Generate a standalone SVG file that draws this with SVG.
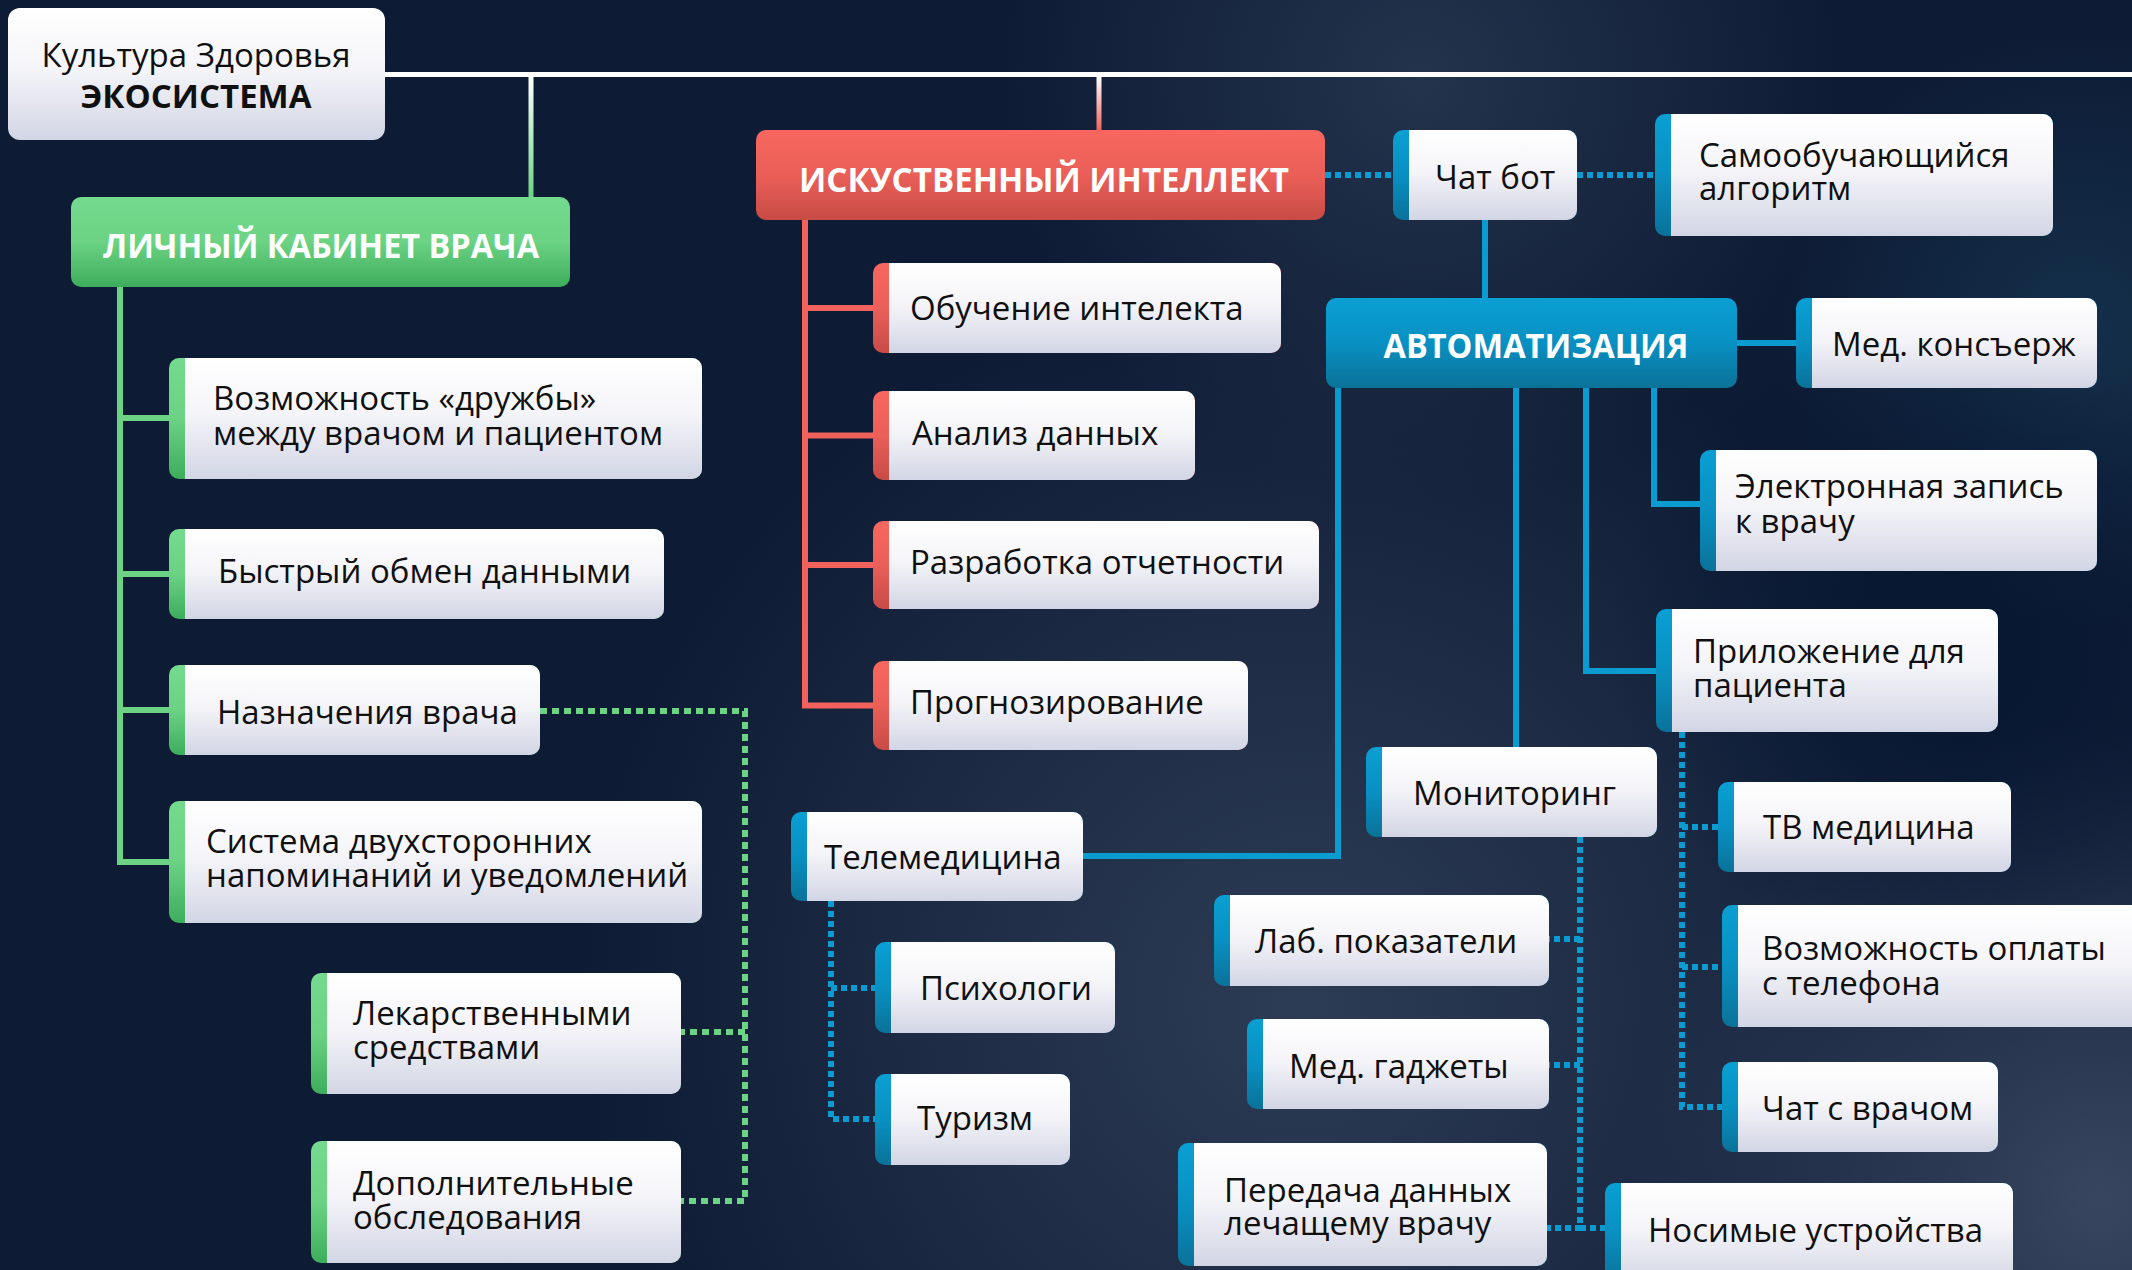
<svg xmlns="http://www.w3.org/2000/svg" width="2132" height="1270" viewBox="0 0 2132 1270">
<defs>
<style>
.t{font-family:"Open Sans","Noto Sans","DejaVu Sans",sans-serif;font-size:33px;fill:#101010}
.h{font-family:"Open Sans","Noto Sans","DejaVu Sans",sans-serif;font-weight:700;font-size:34px;fill:#ffffff;text-anchor:middle}
.w{fill:url(#wg)}
.sg{fill:url(#gg)}
.sr{fill:url(#rg)}
.sb{fill:url(#bgr)}
.lg{fill:none;stroke:#6bd383;stroke-width:6}
.lr{fill:none;stroke:#f0625b;stroke-width:6}
.lb{fill:none;stroke:#0a9bd0;stroke-width:6}
.dg{fill:none;stroke:#6bd383;stroke-width:6;stroke-dasharray:7 5}
.db{fill:none;stroke:#0a9bd0;stroke-width:6;stroke-dasharray:6 4}
</style>
<linearGradient id="wg" x1="0" y1="0" x2="0" y2="1"><stop offset="0" stop-color="#ffffff"/><stop offset="0.45" stop-color="#f5f5f9"/><stop offset="1" stop-color="#d2d5e4"/></linearGradient>
<linearGradient id="gg" x1="0" y1="0" x2="0" y2="1"><stop offset="0" stop-color="#74da8e"/><stop offset="0.5" stop-color="#6bd383"/><stop offset="1" stop-color="#3dad5c"/></linearGradient>
<linearGradient id="rg" x1="0" y1="0" x2="0" y2="1"><stop offset="0" stop-color="#f7675f"/><stop offset="0.5" stop-color="#ea5f58"/><stop offset="1" stop-color="#c84b46"/></linearGradient>
<linearGradient id="bgr" x1="0" y1="0" x2="0" y2="1"><stop offset="0" stop-color="#0a9fd3"/><stop offset="0.5" stop-color="#0990c2"/><stop offset="1" stop-color="#0a7299"/></linearGradient>
<linearGradient id="vwg" x1="0" y1="0" x2="0" y2="1"><stop offset="0" stop-color="#ffffff"/><stop offset="1" stop-color="#6bd383"/></linearGradient>
<linearGradient id="vwr" x1="0" y1="0" x2="0" y2="1"><stop offset="0" stop-color="#ffffff"/><stop offset="1" stop-color="#f0625b"/></linearGradient>
<radialGradient id="bg1" gradientUnits="userSpaceOnUse" cx="1300" cy="1000" r="720"><stop offset="0" stop-color="#2f3e57" stop-opacity="0.95"/><stop offset="1" stop-color="#2f3e57" stop-opacity="0"/></radialGradient>
<radialGradient id="bg2" gradientUnits="userSpaceOnUse" cx="1420" cy="80" r="420"><stop offset="0" stop-color="#26364f" stop-opacity="0.9"/><stop offset="1" stop-color="#26364f" stop-opacity="0"/></radialGradient>
<radialGradient id="bg3" gradientUnits="userSpaceOnUse" cx="2100" cy="1200" r="480"><stop offset="0" stop-color="#3a4862" stop-opacity="0.95"/><stop offset="1" stop-color="#3a4862" stop-opacity="0"/></radialGradient>
<radialGradient id="bg4" gradientUnits="userSpaceOnUse" cx="1930" cy="640" r="320"><stop offset="0" stop-color="#061631" stop-opacity="0.9"/><stop offset="1" stop-color="#061631" stop-opacity="0"/></radialGradient>
<radialGradient id="bg5" gradientUnits="userSpaceOnUse" cx="2080" cy="330" r="300"><stop offset="0" stop-color="#153550" stop-opacity="0.8"/><stop offset="1" stop-color="#153550" stop-opacity="0"/></radialGradient>
</defs>

<g id="background">
<rect x="0" y="0" width="2132" height="1270" fill="#0e1b35"/>
<rect x="0" y="0" width="2132" height="1270" fill="url(#bg1)"/>
<rect x="0" y="0" width="2132" height="1270" fill="url(#bg2)"/>
<rect x="0" y="0" width="2132" height="1270" fill="url(#bg3)"/>
<rect x="0" y="0" width="2132" height="1270" fill="url(#bg5)"/>
<rect x="0" y="0" width="2132" height="1270" fill="url(#bg4)"/>
</g>

<g id="connectors">
<path d="M385 74.5 H2132" fill="none" stroke="#ffffff" stroke-width="5"/>
<rect x="528.5" y="77" width="5" height="120" fill="url(#vwg)"/>
<rect x="1096.5" y="77" width="5" height="53" fill="url(#vwr)"/>
<path class="lg" d="M120 286 V862 H169 M120 418 H169 M120 574 H169 M120 710 H169"/>
<path class="dg" d="M540 711 H745 V1201 H681 M745 1032 H681"/>
<path class="lr" d="M805 219 V705.5 H873 M805 308 H873 M805 435.5 H873 M805 565 H873"/>
<path class="db" d="M1325 175 H1393 M1577 175 H1655"/>
<path class="lb" d="M1485 220 V298 M1737 343 H1796 M1338 388 V856 H1083 M1516 388 V747 M1586 388 V671 H1656 M1654 388 V504 H1700"/>
<path class="db" d="M831 901 V1119 H875 M831 988 H875"/>
<path class="db" d="M1580 837 V1228 H1547 M1580 1228 H1605 M1580 939 H1549 M1580 1065 H1549"/>
<path class="db" d="M1682 732 V1107 H1722 M1682 827 H1718 M1682 967 H1722"/>
</g>

<g id="root">
<rect class="w" x="8" y="8" width="377" height="132" rx="12"/>
<text class="t" text-anchor="middle"><tspan x="196" y="67">Культура Здоровья</tspan><tspan x="196" dy="41" font-weight="700">ЭКОСИСТЕМА</tspan></text>
</g>

<g id="h-cabinet">
<rect class="sg" x="71" y="197" width="499" height="90" rx="10"/>
<text class="h" x="321" y="258" textLength="436" lengthAdjust="spacingAndGlyphs">ЛИЧНЫЙ КАБИНЕТ ВРАЧА</text>
</g>
<g id="h-ai">
<rect class="sr" x="756" y="130" width="569" height="90" rx="10"/>
<text class="h" x="1044" y="192" textLength="490" lengthAdjust="spacingAndGlyphs">ИСКУСТВЕННЫЙ ИНТЕЛЛЕКТ</text>
</g>
<g id="h-auto">
<rect class="sb" x="1326" y="298" width="411" height="90" rx="10"/>
<text class="h" x="1536" y="358" textLength="305" lengthAdjust="spacingAndGlyphs">АВТОМАТИЗАЦИЯ</text>
</g>

<g id="n-druzhba">
<rect class="sg" x="169" y="358" width="533" height="121" rx="10"/>
<rect class="w" x="185" y="358" width="517" height="121" rx="10"/><rect class="w" x="185" y="358" width="20" height="121"/>
<text class="t"><tspan x="213" y="410">Возможность «дружбы»</tspan><tspan x="213" dy="35">между врачом и пациентом</tspan></text>
</g>
<g id="n-obmen">
<rect class="sg" x="169" y="529" width="495" height="90" rx="10"/>
<rect class="w" x="185" y="529" width="479" height="90" rx="10"/><rect class="w" x="185" y="529" width="20" height="90"/>
<text class="t" x="218" y="583">Быстрый обмен данными</text>
</g>
<g id="n-naznach">
<rect class="sg" x="169" y="665" width="371" height="90" rx="10"/>
<rect class="w" x="185" y="665" width="355" height="90" rx="10"/><rect class="w" x="185" y="665" width="20" height="90"/>
<text class="t" x="217" y="724">Назначения врача</text>
</g>
<g id="n-sistema">
<rect class="sg" x="169" y="801" width="533" height="122" rx="10"/>
<rect class="w" x="185" y="801" width="517" height="122" rx="10"/><rect class="w" x="185" y="801" width="20" height="122"/>
<text class="t"><tspan x="206" y="853">Система двухсторонних</tspan><tspan x="206" dy="34">напоминаний и уведомлений</tspan></text>
</g>
<g id="n-lekar">
<rect class="sg" x="311" y="973" width="370" height="121" rx="10"/>
<rect class="w" x="327" y="973" width="354" height="121" rx="10"/><rect class="w" x="327" y="973" width="20" height="121"/>
<text class="t"><tspan x="353" y="1025">Лекарственными</tspan><tspan x="353" dy="34">средствами</tspan></text>
</g>
<g id="n-dopoln">
<rect class="sg" x="311" y="1141" width="370" height="122" rx="10"/>
<rect class="w" x="327" y="1141" width="354" height="122" rx="10"/><rect class="w" x="327" y="1141" width="20" height="122"/>
<text class="t"><tspan x="353" y="1195">Дополнительные</tspan><tspan x="353" dy="34">обследования</tspan></text>
</g>

<g id="n-obuchenie">
<rect class="sr" x="873" y="263" width="408" height="90" rx="10"/>
<rect class="w" x="889" y="263" width="392" height="90" rx="10"/><rect class="w" x="889" y="263" width="20" height="90"/>
<text class="t" x="910" y="320">Обучение интелекта</text>
</g>
<g id="n-analiz">
<rect class="sr" x="873" y="391" width="322" height="89" rx="10"/>
<rect class="w" x="889" y="391" width="306" height="89" rx="10"/><rect class="w" x="889" y="391" width="20" height="89"/>
<text class="t" x="912" y="445">Анализ данных</text>
</g>
<g id="n-otchet">
<rect class="sr" x="873" y="521" width="446" height="88" rx="10"/>
<rect class="w" x="889" y="521" width="430" height="88" rx="10"/><rect class="w" x="889" y="521" width="20" height="88"/>
<text class="t" x="910" y="574">Разработка отчетности</text>
</g>
<g id="n-prognoz">
<rect class="sr" x="873" y="661" width="375" height="89" rx="10"/>
<rect class="w" x="889" y="661" width="359" height="89" rx="10"/><rect class="w" x="889" y="661" width="20" height="89"/>
<text class="t" x="910" y="714">Прогнозирование</text>
</g>

<g id="n-chatbot">
<rect class="sb" x="1393" y="130" width="184" height="90" rx="10"/>
<rect class="w" x="1409" y="130" width="168" height="90" rx="10"/><rect class="w" x="1409" y="130" width="20" height="90"/>
<text class="t" x="1435" y="189">Чат бот</text>
</g>
<g id="n-algoritm">
<rect class="sb" x="1655" y="114" width="398" height="122" rx="10"/>
<rect class="w" x="1671" y="114" width="382" height="122" rx="10"/><rect class="w" x="1671" y="114" width="20" height="122"/>
<text class="t"><tspan x="1699" y="167">Самообучающийся</tspan><tspan x="1699" dy="33">алгоритм</tspan></text>
</g>
<g id="n-konsierzh">
<rect class="sb" x="1796" y="298" width="301" height="90" rx="10"/>
<rect class="w" x="1812" y="298" width="285" height="90" rx="10"/><rect class="w" x="1812" y="298" width="20" height="90"/>
<text class="t" x="1832" y="356">Мед. консъерж</text>
</g>
<g id="n-zapis">
<rect class="sb" x="1700" y="450" width="397" height="121" rx="10"/>
<rect class="w" x="1716" y="450" width="381" height="121" rx="10"/><rect class="w" x="1716" y="450" width="20" height="121"/>
<text class="t"><tspan x="1735" y="498">Электронная запись</tspan><tspan x="1735" dy="35">к врачу</tspan></text>
</g>
<g id="n-prilozhenie">
<rect class="sb" x="1656" y="609" width="342" height="123" rx="10"/>
<rect class="w" x="1672" y="609" width="326" height="123" rx="10"/><rect class="w" x="1672" y="609" width="20" height="123"/>
<text class="t"><tspan x="1693" y="663">Приложение для</tspan><tspan x="1693" dy="34">пациента</tspan></text>
</g>
<g id="n-monitoring">
<rect class="sb" x="1366" y="747" width="291" height="90" rx="10"/>
<rect class="w" x="1382" y="747" width="275" height="90" rx="10"/><rect class="w" x="1382" y="747" width="20" height="90"/>
<text class="t" x="1413" y="805">Мониторинг</text>
</g>
<g id="n-telemed">
<rect class="sb" x="791" y="812" width="292" height="89" rx="10"/>
<rect class="w" x="807" y="812" width="276" height="89" rx="10"/><rect class="w" x="807" y="812" width="20" height="89"/>
<text class="t" x="824" y="869">Телемедицина</text>
</g>
<g id="n-psiholog">
<rect class="sb" x="875" y="942" width="240" height="91" rx="10"/>
<rect class="w" x="891" y="942" width="224" height="91" rx="10"/><rect class="w" x="891" y="942" width="20" height="91"/>
<text class="t" x="920" y="1000">Психологи</text>
</g>
<g id="n-turizm">
<rect class="sb" x="875" y="1074" width="195" height="91" rx="10"/>
<rect class="w" x="891" y="1074" width="179" height="91" rx="10"/><rect class="w" x="891" y="1074" width="20" height="91"/>
<text class="t" x="917" y="1130">Туризм</text>
</g>
<g id="n-tv">
<rect class="sb" x="1718" y="782" width="293" height="90" rx="10"/>
<rect class="w" x="1734" y="782" width="277" height="90" rx="10"/><rect class="w" x="1734" y="782" width="20" height="90"/>
<text class="t" x="1763" y="839">ТВ медицина</text>
</g>
<g id="n-oplata">
<rect class="sb" x="1722" y="905" width="430" height="122" rx="10"/>
<rect class="w" x="1738" y="905" width="414" height="122" rx="10"/><rect class="w" x="1738" y="905" width="20" height="122"/>
<text class="t"><tspan x="1762" y="960">Возможность оплаты</tspan><tspan x="1762" dy="35">с телефона</tspan></text>
</g>
<g id="n-chatvrach">
<rect class="sb" x="1722" y="1062" width="276" height="90" rx="10"/>
<rect class="w" x="1738" y="1062" width="260" height="90" rx="10"/><rect class="w" x="1738" y="1062" width="20" height="90"/>
<text class="t" x="1762" y="1120">Чат с врачом</text>
</g>
<g id="n-lab">
<rect class="sb" x="1214" y="895" width="335" height="91" rx="10"/>
<rect class="w" x="1230" y="895" width="319" height="91" rx="10"/><rect class="w" x="1230" y="895" width="20" height="91"/>
<text class="t" x="1255" y="953">Лаб. показатели</text>
</g>
<g id="n-gadzhety">
<rect class="sb" x="1247" y="1019" width="302" height="90" rx="10"/>
<rect class="w" x="1263" y="1019" width="286" height="90" rx="10"/><rect class="w" x="1263" y="1019" width="20" height="90"/>
<text class="t" x="1289" y="1078">Мед. гаджеты</text>
</g>
<g id="n-peredacha">
<rect class="sb" x="1178" y="1143" width="369" height="123" rx="10"/>
<rect class="w" x="1194" y="1143" width="353" height="123" rx="10"/><rect class="w" x="1194" y="1143" width="20" height="123"/>
<text class="t"><tspan x="1224" y="1202">Передача данных</tspan><tspan x="1224" dy="33">лечащему врачу</tspan></text>
</g>
<g id="n-nosimye">
<rect class="sb" x="1605" y="1183" width="408" height="100" rx="10"/>
<rect class="w" x="1621" y="1183" width="392" height="100" rx="10"/><rect class="w" x="1621" y="1183" width="20" height="100"/>
<text class="t" x="1648" y="1242">Носимые устройства</text>
</g>
</svg>
